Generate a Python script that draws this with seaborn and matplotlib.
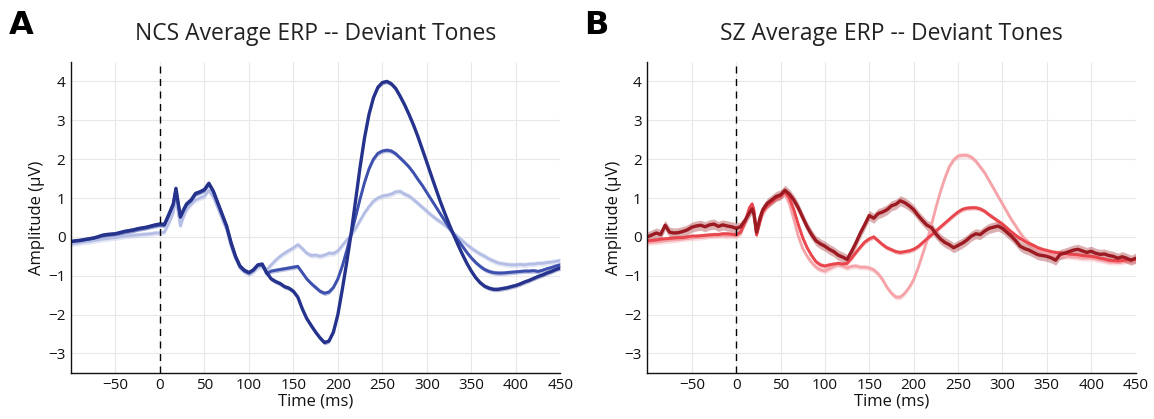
import numpy as np
import pandas as pd
import matplotlib
matplotlib.use("Agg")
import matplotlib.pyplot as plt
import seaborn as sns

# time axis (ms): 5 ms steps, with extra samples around the early P50 spike
time_ms = list(range(-100, 5, 5)) + [5, 10, 15, 18, 20, 23, 27] + list(range(30, 455, 5))

# NCS group, three deviant conditions (dark / medium / light)
ncs_dark = [
    -0.12, -0.10, -0.09, -0.07, -0.05, -0.03, 0.00, 0.04, 0.06, 0.07, 0.08,
    0.11, 0.14, 0.16, 0.18, 0.21, 0.23, 0.25, 0.28, 0.31, 0.33,
    0.32, 0.58, 0.85, 1.25, 0.95, 0.52, 0.72,
    0.85, 0.95, 1.12, 1.16, 1.22, 1.38, 1.18, 0.88, 0.58, 0.28,
    -0.15, -0.50, -0.75, -0.86, -0.92, -0.85, -0.72, -0.70, -0.92, -1.08,
    -1.15, -1.20, -1.28, -1.32, -1.40, -1.55, -1.85, -2.10, -2.28, -2.45,
    -2.60, -2.72, -2.68, -2.45, -2.00, -1.35, -0.65, 0.10, 0.95, 1.80,
    2.55, 3.15, 3.58, 3.85, 3.97, 4.00, 3.94, 3.82, 3.62, 3.40,
    3.15, 2.88, 2.58, 2.25, 1.92, 1.58, 1.25, 0.92, 0.62, 0.33,
    0.06, -0.20, -0.45, -0.68, -0.88, -1.05, -1.18, -1.27, -1.32, -1.35,
    -1.35, -1.33, -1.31, -1.28, -1.25, -1.21, -1.16, -1.12, -1.07, -1.02,
    -0.98, -0.93, -0.89, -0.84, -0.80,
]
ncs_mid = [
    -0.13, -0.11, -0.10, -0.08, -0.06, -0.04, -0.01, 0.03, 0.05, 0.06, 0.08,
    0.10, 0.13, 0.15, 0.17, 0.20, 0.22, 0.24, 0.27, 0.29, 0.31,
    0.30, 0.55, 0.82, 1.22, 0.92, 0.50, 0.70,
    0.83, 0.93, 1.10, 1.15, 1.20, 1.36, 1.16, 0.86, 0.56, 0.26,
    -0.17, -0.52, -0.77, -0.88, -0.93, -0.86, -0.73, -0.72, -0.95, -0.88,
    -0.86, -0.84, -0.82, -0.80, -0.78, -0.76, -0.92, -1.08, -1.20, -1.30,
    -1.40, -1.45, -1.42, -1.30, -1.08, -0.75, -0.35, 0.08, 0.52, 0.98,
    1.40, 1.75, 2.00, 2.15, 2.21, 2.23, 2.21, 2.14, 2.03, 1.92,
    1.80, 1.65, 1.48, 1.32, 1.14, 0.96, 0.78, 0.60, 0.42, 0.24,
    0.07, -0.08, -0.24, -0.40, -0.54, -0.66, -0.76, -0.84, -0.89, -0.92,
    -0.93, -0.93, -0.92, -0.91, -0.90, -0.89, -0.88, -0.88, -0.87, -0.89,
    -0.86, -0.82, -0.79, -0.75, -0.72,
]
ncs_light = [
    -0.18, -0.17, -0.15, -0.13, -0.12, -0.10, -0.08, -0.06, -0.05, -0.03, -0.02,
    0.00, 0.02, 0.03, 0.04, 0.05, 0.06, 0.07, 0.08, 0.10, 0.10,
    0.12, 0.35, 0.62, 1.00, 0.70, 0.28, 0.55,
    0.70, 0.84, 0.95, 1.00, 1.05, 1.20, 1.02, 0.75, 0.46, 0.18,
    -0.25, -0.56, -0.80, -0.90, -0.95, -0.90, -0.78, -0.76, -0.85, -0.72,
    -0.60, -0.50, -0.42, -0.35, -0.28, -0.20, -0.30, -0.42, -0.48, -0.47,
    -0.50, -0.47, -0.42, -0.43, -0.36, -0.22, -0.08, 0.05, 0.22, 0.42,
    0.62, 0.78, 0.92, 1.00, 1.05, 1.07, 1.10, 1.16, 1.17, 1.10,
    1.05, 0.96, 0.86, 0.76, 0.66, 0.56, 0.47, 0.39, 0.31, 0.21,
    0.10, 0.00, -0.10, -0.20, -0.29, -0.37, -0.44, -0.50, -0.57, -0.62,
    -0.67, -0.69, -0.71, -0.72, -0.72, -0.71, -0.72, -0.70, -0.70, -0.68,
    -0.68, -0.66, -0.65, -0.63, -0.61,
]

# SZ group, same three conditions
sz_dark = [
    0.00, 0.05, 0.10, 0.06, 0.30, 0.12, 0.10, 0.11, 0.14, 0.18, 0.25,
    0.28, 0.30, 0.26, 0.31, 0.33, 0.27, 0.31, 0.28, 0.26, 0.22,
    0.26, 0.42, 0.62, 0.72, 0.58, 0.12, 0.50,
    0.70, 0.86, 0.95, 1.04, 1.08, 1.20, 1.10, 0.95, 0.75, 0.50,
    0.26, 0.06, -0.10, -0.18, -0.24, -0.32, -0.38, -0.47, -0.52, -0.58,
    -0.38, -0.15, 0.10, 0.32, 0.55, 0.48, 0.60, 0.64, 0.70, 0.80,
    0.84, 0.93, 0.88, 0.80, 0.70, 0.55, 0.42, 0.30, 0.24, 0.08,
    -0.05, -0.14, -0.20, -0.28, -0.22, -0.16, -0.08, 0.02, 0.08, 0.06,
    0.15, 0.22, 0.25, 0.28, 0.22, 0.12, 0.02, -0.10, -0.24, -0.30,
    -0.34, -0.40, -0.46, -0.48, -0.50, -0.54, -0.60, -0.45, -0.42, -0.38,
    -0.34, -0.32, -0.36, -0.40, -0.37, -0.42, -0.45, -0.44, -0.48, -0.50,
    -0.55, -0.51, -0.55, -0.60, -0.55,
]
sz_mid = [
    -0.10, -0.09, -0.08, -0.06, -0.05, -0.04, -0.03, -0.02, -0.02, 0.00, 0.02,
    0.02, 0.03, 0.04, 0.05, 0.06, 0.06, 0.08, 0.08, 0.07, 0.05,
    0.12, 0.38, 0.75, 0.85, 0.70, 0.05, 0.40,
    0.65, 0.80, 0.90, 1.00, 1.05, 1.15, 1.00, 0.70, 0.32, -0.02,
    -0.28, -0.48, -0.64, -0.72, -0.75, -0.72, -0.70, -0.68, -0.70, -0.68,
    -0.55, -0.40, -0.26, -0.13, -0.05, 0.00, -0.10, -0.20, -0.28, -0.33,
    -0.38, -0.40, -0.38, -0.36, -0.32, -0.25, -0.15, -0.05, 0.05, 0.15,
    0.25, 0.35, 0.45, 0.55, 0.64, 0.71, 0.74, 0.75, 0.75, 0.72,
    0.66, 0.57, 0.49, 0.41, 0.33, 0.23, 0.13, 0.04, -0.04, -0.11,
    -0.17, -0.22, -0.28, -0.32, -0.35, -0.38, -0.40, -0.41, -0.42, -0.44,
    -0.45, -0.46, -0.48, -0.49, -0.50, -0.52, -0.55, -0.57, -0.60, -0.61,
    -0.62, -0.61, -0.60, -0.59, -0.58,
]
sz_light = [
    -0.15, -0.14, -0.13, -0.12, -0.10, -0.09, -0.08, -0.07, -0.05, -0.04, -0.03,
    -0.02, -0.01, 0.00, 0.02, 0.02, 0.03, 0.03, 0.02, 0.03, 0.02,
    0.08, 0.35, 0.70, 0.80, 0.65, 0.05, 0.40,
    0.60, 0.78, 0.90, 1.00, 1.05, 1.10, 0.85, 0.45, 0.02, -0.30,
    -0.50, -0.66, -0.78, -0.85, -0.88, -0.82, -0.76, -0.72, -0.75, -0.80,
    -0.76, -0.75, -0.78, -0.78, -0.80, -0.85, -0.95, -1.10, -1.30, -1.45,
    -1.55, -1.55, -1.45, -1.30, -1.10, -0.80, -0.45, -0.10, 0.30, 0.75,
    1.15, 1.50, 1.80, 1.98, 2.08, 2.10, 2.10, 2.05, 1.95, 1.80,
    1.65, 1.45, 1.25, 1.05, 0.85, 0.65, 0.45, 0.28, 0.10, -0.05,
    -0.15, -0.25, -0.32, -0.38, -0.42, -0.45, -0.48, -0.50, -0.50, -0.51,
    -0.52, -0.53, -0.55, -0.55, -0.55, -0.57, -0.60, -0.62, -0.65, -0.65,
    -0.66, -0.64, -0.62, -0.61, -0.60,
]

# standard error half-widths for the shaded bands (light, mid, dark)
ncs_sem = [0.07, 0.06, 0.06]
sz_sem = [0.07, 0.06, 0.13]

ncs_colors = ["#B4BDE4", "#3E50AE", "#26338C"]
sz_colors = ["#F5A3A8", "#E8454D", "#9C1A22"]
line_widths = [2.0, 2.1, 2.4]

sns.set_style("white")
plt.rcParams["font.family"] = ["Open Sans", "DejaVu Sans"]

fig = plt.figure(figsize=(11.54, 4.19), dpi=100)
ax_a = fig.add_axes([0.0615, 0.110, 0.424, 0.742])
ax_b = fig.add_axes([0.561, 0.110, 0.423, 0.742])

panels = [
    (ax_a, "NCS Average ERP -- Deviant Tones", [ncs_light, ncs_mid, ncs_dark], ncs_sem, ncs_colors),
    (ax_b, "SZ Average ERP -- Deviant Tones", [sz_light, sz_mid, sz_dark], sz_sem, sz_colors),
]

t = np.array(time_ms)
for ax, title, series, sems, colors in panels:
    for y, s, c, lw in zip(series, sems, colors, line_widths):
        y = np.array(y)
        ax.fill_between(t, y - s, y + s, color=c, alpha=0.35, lw=0)
        df = pd.DataFrame({"t": t, "amp": y})
        sns.lineplot(data=df, x="t", y="amp", ax=ax, color=c, lw=lw)

    ax.axvline(0, color="black", ls=(0, (5, 4)), lw=1)
    ax.set_xlim(-100, 450)
    ax.set_ylim(-3.5, 4.5)
    ax.set_xticks(range(-50, 451, 50))
    ax.set_yticks(range(-3, 5))
    ax.grid(True, color="#E8E8E8", lw=0.8)
    ax.set_axisbelow(True)
    sns.despine(ax=ax)
    for sp in ["left", "bottom"]:
        ax.spines[sp].set_color("#111111")
        ax.spines[sp].set_linewidth(1.0)
    ax.tick_params(direction="in", length=3, width=0.8, labelsize=11,
                   colors="#111111", pad=4)
    ax.set_xlabel("Time (ms)", fontsize=12, labelpad=0, color="#111111")
    ax.set_ylabel("Amplitude (\u03bcV)", fontsize=12, labelpad=2, color="#111111")
    ax.set_title(title, fontsize=16.5, pad=16, color="#222222")

fig.text(0.008, 0.975, "A", fontsize=23, fontweight="bold",
         family="DejaVu Sans", va="top", color="black")
fig.text(0.506, 0.975, "B", fontsize=23, fontweight="bold",
         family="DejaVu Sans", va="top", color="black")

fig.savefig("out.png", dpi=100)
